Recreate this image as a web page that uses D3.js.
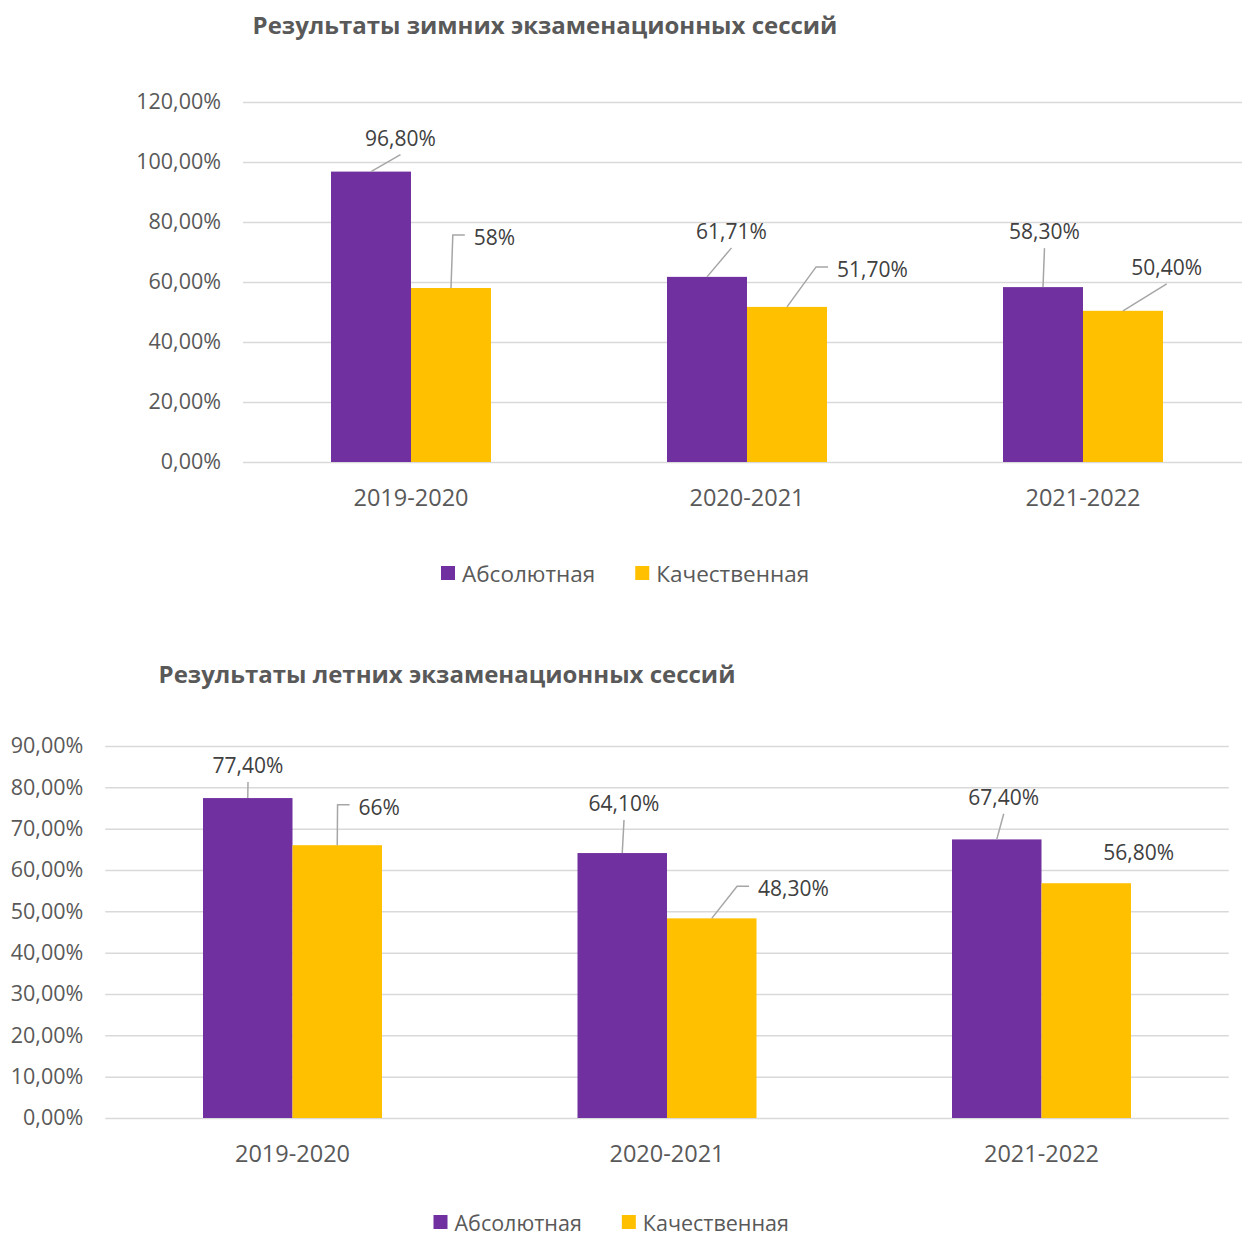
<!DOCTYPE html>
<html>
<head>
<meta charset="utf-8">
<script src="https://cdn.jsdelivr.net/npm/d3@7"></script>
<style>
  body { margin: 0; background: #fff; }
  svg { display: block; font-family: "Open Sans", sans-serif; }
</style>
</head>
<body>
<div id="chart"></div>
<script>
// Данные
const years = ["2019-2020", "2020-2021", "2021-2022"];
const seriesNames = ["Абсолютная", "Качественная"];

const winterAbs = [96.8, 61.71, 58.3];
const winterQual = [58, 51.7, 50.4];
const winterAbsLabels = ["96,80%", "61,71%", "58,30%"];
const winterQualLabels = ["58%", "51,70%", "50,40%"];
const winterTicks = [0, 20, 40, 60, 80, 100, 120];

const summerAbs = [77.4, 64.1, 67.4];
const summerQual = [66, 48.3, 56.8];
const summerAbsLabels = ["77,40%", "64,10%", "67,40%"];
const summerQualLabels = ["66%", "48,30%", "56,80%"];
const summerTicks = [0, 10, 20, 30, 40, 50, 60, 70, 80, 90];

const colors = ["#7030A0", "#FFC000"];

const width = 1242, height = 1236;
const svg = d3.select("#chart").append("svg")
    .attr("width", width)
    .attr("height", height);

function drawChart(cfg) {
    const g = svg.append("g");

    // Заголовок
    g.append("text")
        .attr("x", cfg.titleX)
        .attr("y", cfg.titleY)
        .attr("text-anchor", "middle")
        .attr("dominant-baseline", "central")
        .attr("font-size", "24px")
        .attr("font-weight", "bold")
        .attr("fill", "#595959")
        .text(cfg.title);

    const x = d3.scaleBand().domain(years).range([cfg.left, cfg.right]);
    const x1 = d3.scaleBand().domain(seriesNames).range([x.bandwidth() / 2 - cfg.barW, x.bandwidth() / 2 + cfg.barW]);
    const ymax = cfg.ticks[cfg.ticks.length - 1];
    const y = d3.scaleLinear().domain([0, ymax]).range([cfg.bottom, cfg.top]);

    // Сетка и ось Y
    const fmt = v => d3.format(".2f")(v).replace(".", ",") + "%";
    const yAxis = g.append("g")
        .attr("transform", `translate(${cfg.left},0)`)
        .call(d3.axisLeft(y).tickValues(cfg.ticks).tickSize(-(Math.min(cfg.right, width) - cfg.left)).tickPadding(22).tickFormat(fmt));
    yAxis.select(".domain").remove();
    yAxis.selectAll("line").attr("stroke", "#D9D9D9").attr("stroke-width", 1.5);
    yAxis.selectAll("text")
        .attr("fill", "#595959")
        .style("font-size", "21.5px")
        .style("font-family", "Open Sans");

    // Подписи категорий
    g.selectAll("text.cat")
        .data(years)
        .enter()
        .append("text")
        .attr("class", "cat")
        .attr("x", d => x(d) + x.bandwidth() / 2)
        .attr("y", cfg.bottom + 35)
        .attr("text-anchor", "middle")
        .attr("dominant-baseline", "central")
        .attr("font-size", "23.5px")
        .attr("fill", "#595959")
        .text(d => d);

    // Бары
    const vals = [cfg.abs, cfg.qual];
    const labels = [cfg.absLabels, cfg.qualLabels];
    const bars = [];
    seriesNames.forEach((s, si) => {
        years.forEach((yr, i) => {
            bars.push({ s: s, si: si, yr: yr, v: vals[si][i], label: labels[si][i], pos: cfg.labelPos[si][i] });
        });
    });

    g.selectAll("rect.bar")
        .data(bars)
        .enter()
        .append("rect")
        .attr("class", "bar")
        .attr("x", d => x(d.yr) + x1(d.s))
        .attr("y", d => y(d.v))
        .attr("width", x1.bandwidth())
        .attr("height", d => y(0) - y(d.v))
        .attr("fill", d => colors[d.si]);

    // Подписи данных с линиями выноски
    bars.forEach(d => {
        const bx = x(d.yr) + x1(d.s) + x1.bandwidth() / 2;
        const by = y(d.v);
        const lx = bx + d.pos[0], ly = by + d.pos[1];
        const t = g.append("text")
            .attr("x", lx)
            .attr("y", ly)
            .attr("text-anchor", "middle")
            .attr("dominant-baseline", "central")
            .attr("font-size", "21px")
            .attr("fill", "#404040")
            .text(d.label);
        const w = t.node().getComputedTextLength();
        let pts = null;
        if (d.pos[2] === "bottom") {
            pts = [[bx, by], [lx, ly + 17]];
        } else if (d.pos[2] === "side") {
            const left = lx - w / 2;
            pts = [[bx, by], [left - 21, ly - 2], [left - 9, ly - 2]];
        }
        if (pts) {
            g.append("path")
                .attr("d", d3.line()(pts))
                .attr("fill", "none")
                .attr("stroke", "#A6A6A6")
                .attr("stroke-width", 1.5);
        }
    });

    // Легенда
    let lx = cfg.legendX;
    seriesNames.forEach((s, i) => {
        g.append("rect")
            .attr("x", lx)
            .attr("y", cfg.legendY - 7)
            .attr("width", 14)
            .attr("height", 14)
            .attr("fill", colors[i]);
        const t = g.append("text")
            .attr("x", lx + 21)
            .attr("y", cfg.legendY)
            .attr("dominant-baseline", "central")
            .attr("font-size", cfg.legendSize)
            .attr("fill", "#595959")
            .text(s);
        lx += 21 + t.node().getComputedTextLength() + 40;
    });
}

// Зимние сессии
drawChart({
    title: "Результаты зимних экзаменационных сессий",
    titleX: 545, titleY: 24,
    left: 243, right: 1251, top: 102, bottom: 462, barW: 80,
    ticks: winterTicks,
    abs: winterAbs, qual: winterQual,
    absLabels: winterAbsLabels, qualLabels: winterQualLabels,
    labelPos: [
        [[29.5, -34, "bottom"], [24.5, -46, "bottom"], [1.5, -56, "bottom"]],
        [[43.5, -51, "side"], [85.5, -38, "side"], [43.7, -44, "bottom"]]
    ],
    legendX: 441, legendY: 573, legendSize: "22.5px"
});

// Летние сессии
drawChart({
    title: "Результаты летних экзаменационных сессий",
    titleX: 447, titleY: 673,
    left: 105.25, right: 1228.75, top: 746, bottom: 1118, barW: 89.5,
    ticks: summerTicks,
    abs: summerAbs, qual: summerQual,
    absLabels: summerAbsLabels, qualLabels: summerQualLabels,
    labelPos: [
        [[0.25, -33, "bottom"], [1.75, -50, "bottom"], [7, -42.7, "bottom"]],
        [[42, -38.5, "side"], [81.75, -30, "side"], [52.4, -31, "none"]]
    ],
    legendX: 433.5, legendY: 1222, legendSize: "21.5px"
});
</script>
</body>
</html>
